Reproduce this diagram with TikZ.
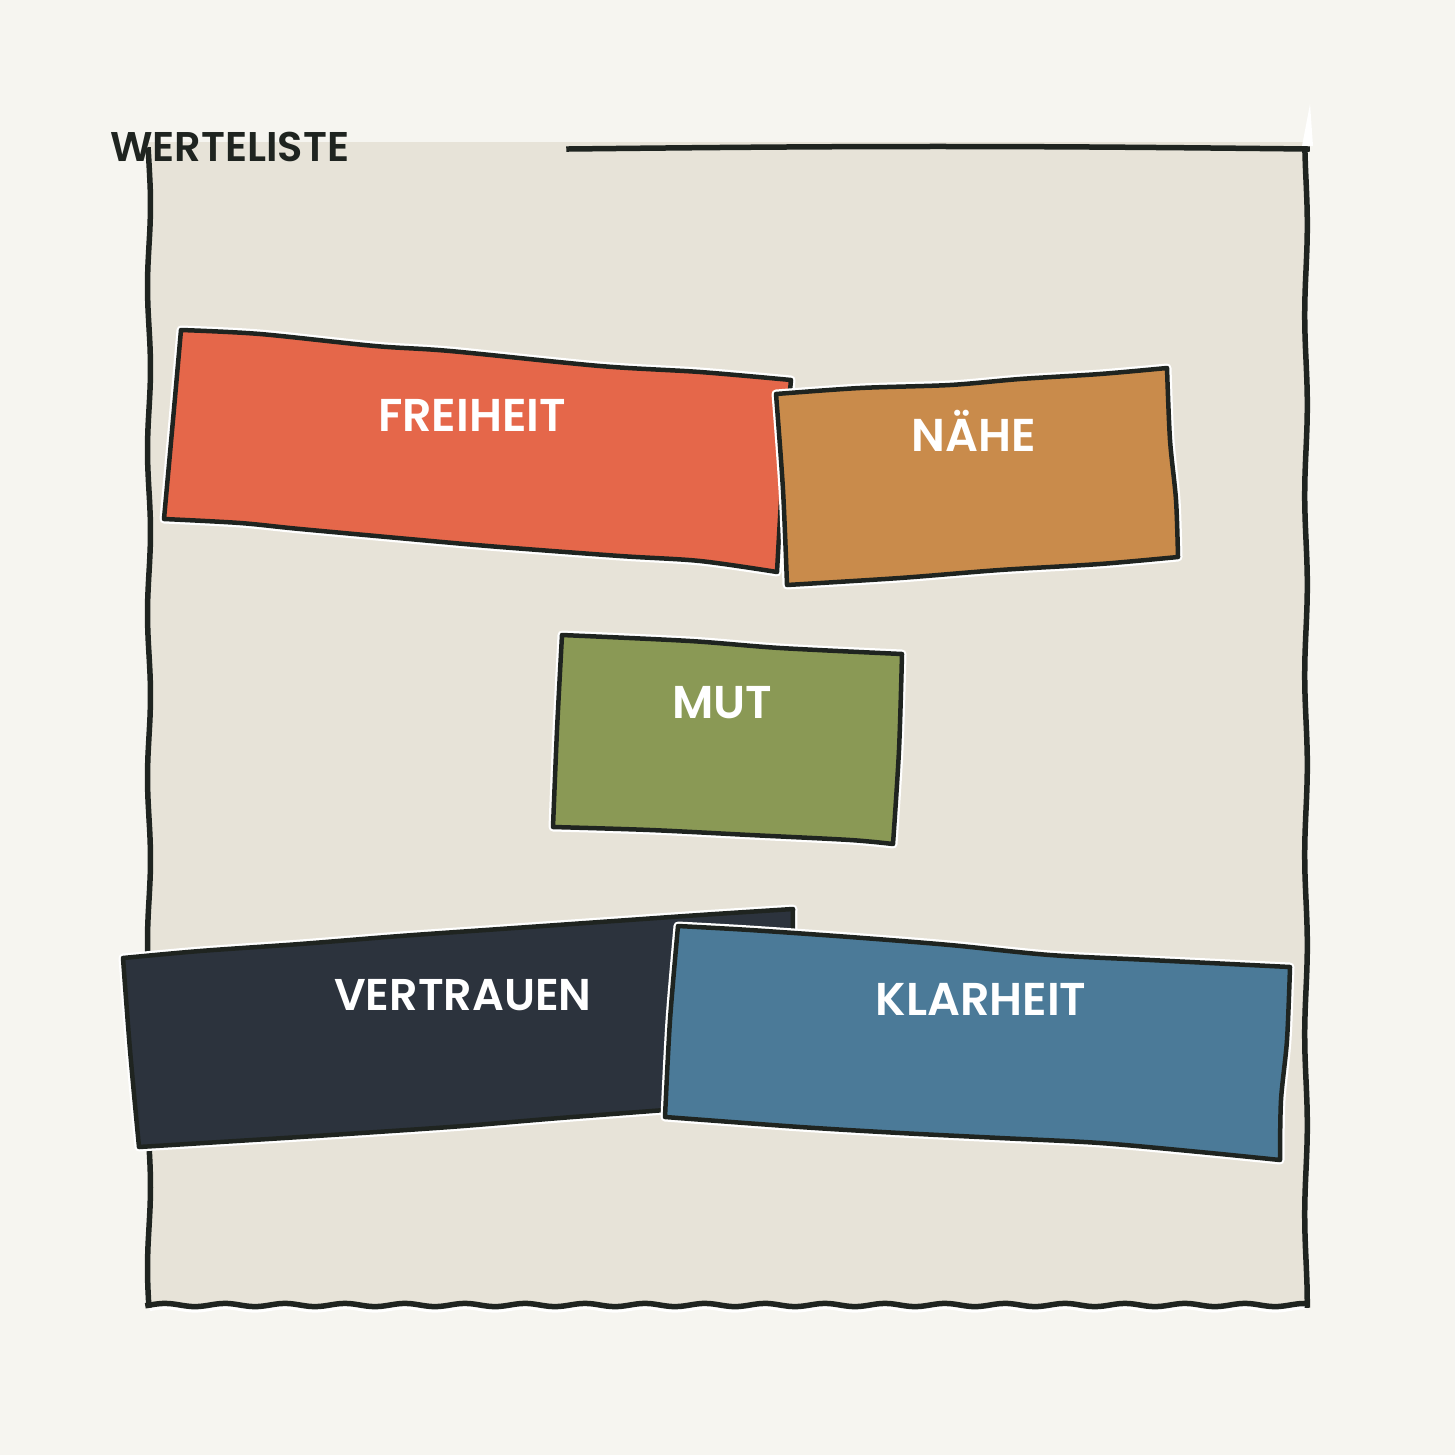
\documentclass[tikz,border=0pt]{standalone}
\usepackage{fontspec}
\newfontfamily\labfont{Poppins SemiBold}
\definecolor{bgc}{HTML}{F6F5F0}
\definecolor{panel}{HTML}{E7E3D8}
\definecolor{ink}{HTML}{1F2420}
\definecolor{cred}{HTML}{E5674A}
\definecolor{corange}{HTML}{C98B4B}
\definecolor{cgreen}{HTML}{8A9955}
\definecolor{cnavy}{HTML}{2C333D}
\definecolor{cblue}{HTML}{4B7A98}
\tikzset{
  sketch/.style={draw=ink, line width=4.5pt, line join=round, fill=#1,
    preaction={draw=white, line width=9pt, line join=round}},
  border/.style={draw=ink, line width=5.5pt, line cap=rect},
  lab/.style={text=white, font=\labfont\fontsize{46}{46}\selectfont, anchor=base, inner sep=0pt},
}
\begin{document}
\begin{tikzpicture}[x=1pt,y=-1pt]
\useasboundingbox (0,0) rectangle (1455,1455);
\fill[bgc] (0,0) rectangle (1455,1455);
% panel
\fill[panel] (148,142) rectangle (1307,1305);
\draw[white, line width=4pt] plot[domain=150:1306, samples=160, smooth] ({\x},{1309+1.6*sin(\x*6)});
\draw[border] plot[domain=150:1305, samples=60, smooth] ({149+1.5*sin(\x*2.2)},{\x});
\draw[border] plot[domain=148:1305, samples=60, smooth] ({1306+1.3*sin(\x*2)},{\x});
\draw[border] plot[domain=148:1307, samples=160, smooth] ({\x},{1305+1.6*sin(\x*6)});
\draw[border] plot[domain=569:1307, samples=40, smooth] ({\x},{149-2.5*sin((\x-569)*0.2439)});
\fill[white] (1310,104) -- (1313,146) -- (1302,146) -- cycle;
\node[anchor=base west, inner sep=0pt, text=ink, font=\labfont\fontsize{41.5}{41.5}\selectfont] (title) at (110,162) {WERTELISTE};
% FREIHEIT
\draw[sketch=cred] plot[smooth] coordinates {(181,330) (260,334) (375,346) (450,351) (600,366) (700,372) (791,380)}
  -- plot[smooth] coordinates {(791,380) (783,470) (777,572)}
  -- plot[smooth] coordinates {(777,572) (700,561) (620,556) (500,547) (420,540) (300,529) (240,523) (164,519)}
  -- plot[smooth] coordinates {(164,519) (173,420) (181,330)} -- cycle;
\node[lab] (freiheit) at (472,431) {FREIHEIT};
% NAEHE
\draw[sketch=corange] plot[smooth] coordinates {(776,394) (860,388) (950,385) (1020,379) (1100,374) (1167,368)}
  -- plot[smooth] coordinates {(1167,368) (1170,440) (1176,500) (1178,557)}
  -- plot[smooth] coordinates {(1178,557) (1100,564) (1000,570) (900,578) (787,585)}
  -- plot[smooth] coordinates {(787,585) (783,490) (776,394)} -- cycle;
\node[lab] (naehe) at (974,451) {NÄHE};
% MUT
\draw[sketch=cgreen] plot[smooth] coordinates {(562,635) (690,641) (780,648) (902,654)}
  -- plot[smooth] coordinates {(902,654) (899,750) (893,844)}
  -- plot[smooth] coordinates {(893,844) (850,840) (750,835) (650,830) (553,827)}
  -- plot[smooth] coordinates {(553,827) (557,730) (562,635)} -- cycle;
\node[lab] (mut) at (722,718) {MUT};
% VERTRAUEN
\draw[sketch=cnavy] plot[smooth] coordinates {(123,958) (200,951) (300,944) (400,936) (500,929) (600,922) (700,915) (793,909)}
  -- plot[smooth] coordinates {(793,909) (792,1000) (790,1100)}
  -- plot[smooth] coordinates {(790,1100) (665,1110) (560,1118) (450,1127) (300,1137) (139,1147)}
  -- plot[smooth] coordinates {(139,1147) (130,1050) (123,958)} -- cycle;
\node[lab, font=\labfont\fontsize{44.5}{44.5}\selectfont] (vertrauen) at (463,1010) {VERTRAUEN};
% KLARHEIT
\draw[sketch=cblue] plot[smooth] coordinates {(678,926) (750,930) (850,937) (950,945) (1050,955) (1150,960) (1290,967)}
  -- plot[smooth] coordinates {(1290,967) (1287,1040) (1281,1100) (1280,1160)}
  -- plot[smooth] coordinates {(1280,1160) (1200,1152) (1100,1143) (1000,1138) (900,1133) (800,1127) (665,1117)}
  -- plot[smooth] coordinates {(665,1117) (670,1020) (678,926)} -- cycle;
\node[lab] (klarheit) at (981,1015) {KLARHEIT};
\end{tikzpicture}
\end{document}
